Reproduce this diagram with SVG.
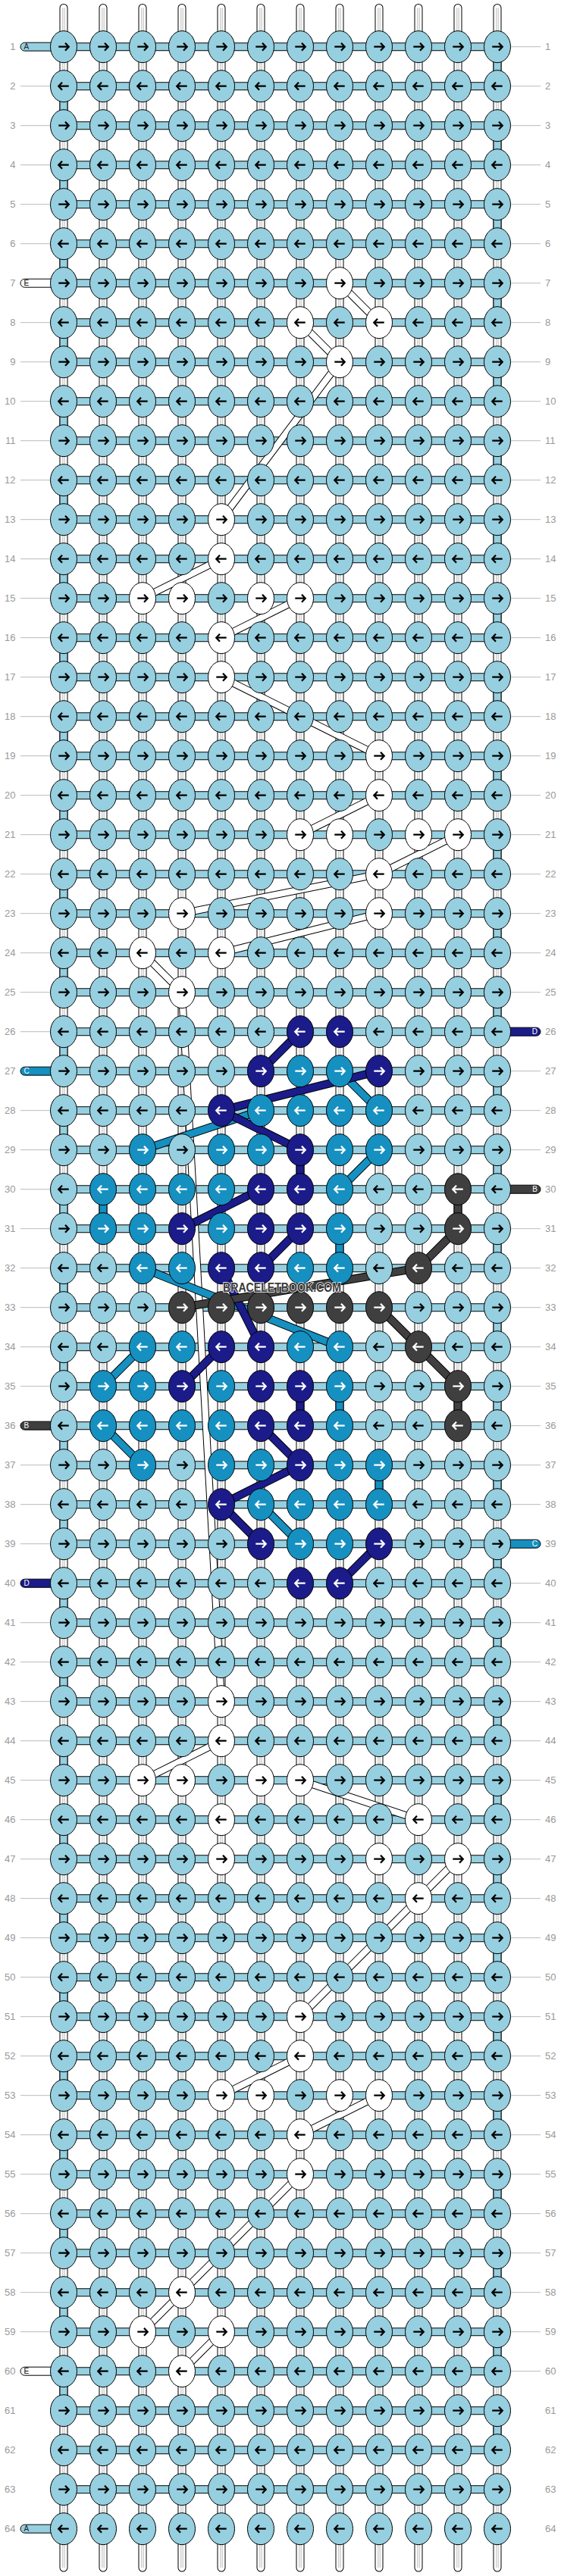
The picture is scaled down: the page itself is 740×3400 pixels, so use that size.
<svg xmlns="http://www.w3.org/2000/svg" width="740" height="3400" viewBox="0 0 740 3400">
<style>
.num{font-family:"Liberation Sans Narrow","Liberation Sans",Arial,sans-serif;font-size:13px;fill:#999}
.pl{font-family:"Liberation Sans",Arial,sans-serif;font-size:10px}
.e{fill:#fff}
.b{fill:#3f3f3f;color:#fff}
.c{fill:#1590c0;color:#fff}
.d{fill:#1b1b8a;color:#fff}
.wm{font-family:"Liberation Sans Narrow","Liberation Sans",Arial,sans-serif;font-size:16px;font-weight:bold;fill:#3a3a3a;stroke:#fff;stroke-width:1.5;paint-order:stroke}
</style>
<defs>
<g id="R"><ellipse rx="17.5" ry="21" stroke="#000"/><path d="M-6.7 0H6M2-5 6.7 0 2 5" fill="none" stroke="currentColor" stroke-width="2.3"/></g>
<g id="L"><ellipse rx="17.5" ry="21" stroke="#000"/><path d="M6.7 0H-6M-2-5-6.7 0-2 5" fill="none" stroke="currentColor" stroke-width="2.3"/></g>
<path id="vs" d="M84 10.5V3389M136 10.5V3389M188 10.5V3389M240 10.5V3389M292 10.5V3389M344 10.5V3389M396 10.5V3389M448 10.5V3389M500 10.5V3389M552 10.5V3389M604 10.5V3389M656 10.5V3389"/>
<path id="hb" d="M84 61.7H656m-572 52h572m-572 52h572m-572 52h572m-572 52h572m-572 52h572m-572 52h572m-572 52h572m-572 52h572m-572 52h572m-572 52h572m-572 52h572m-572 52h572m-572 52h572m-572 52h572m-572 52h572m-572 52h572m-572 52h572m-572 52h572m-572 52h572m-572 52h572m-572 52h572m-572 52h572m-572 52h572m-572 52h572m-572 52h572m-572 52h572m-572 52h572m-572 52h572m-572 52h572m-572 52h572m-572 52h572m-572 52h572m-572 52h572m-572 52h572m-572 52h572m-572 52h572m-572 52h572m-572 52h572m-572 52h572m-572 52h572m-572 52h572m-572 52h572m-572 52h572m-572 52h572m-572 52h572m-572 52h572m-572 52h572m-572 52h572m-572 52h572m-572 52h572m-572 52h572m-572 52h572m-572 52h572m-572 52h572m-572 52h572m-572 52h572m-572 52h572m-572 52h572m-572 52h572m-572 52h572m-572 52h572m-572 52h572"/>
<path id="ec" d="M656 79.7v16m-572 36v16m572 36v16m-572 36v16m572 36v16m-572 36v16m572 36v16m-572 36v16m572 36v16m-572 36v16m572 36v16m-572 36v16m572 36v16m-572 36v16m572 36v16m-572 36v16m572 36v16m-572 36v16m572 36v16m-572 36v16m572 36v16m-572 36v16m572 36v16m-572 36v16m572 36v16m-572 36v16m572 36v16m-572 36v16m572 36v16m-572 36v16m572 36v16m-572 36v16m572 36v16m-572 36v16m572 36v16m-572 36v16m572 36v16m-572 36v16m572 36v16m-572 36v16m572 36v16m-572 36v16m572 36v16m-572 36v16m572 36v16m-572 36v16m572 36v16m-572 36v16m572 36v16m-572 36v16m572 36v16m-572 36v16m572 36v16m-572 36v16m572 36v16m-572 36v16m572 36v16m-572 36v16m572 36v16m-572 36v16m572 36v16"/>
<path id="wd" d="M448 373.7L500 425.7M396 425.7L448 477.7M448 477.7L292 685.7M292 737.7L188 789.7M396 789.7L292 841.7M292 893.7L500 997.7M500 1049.7L396 1101.7M604 1101.7L500 1153.7M500 1153.7L240 1205.7M500 1205.7L292 1257.7M188 1257.7L240 1309.7M240 1309.7L292 2245.7M292 2297.7L188 2349.7M396 2349.7L552 2401.7M604 2453.7L552 2505.7M552 2505.7L396 2661.7M396 2713.7L292 2765.7M500 2765.7L396 2817.7M396 2869.7L240 3025.7M240 3025.7L188 3077.7M292 3077.7L240 3129.7"/>
<path id="cd" d="M448 1413.7L500 1465.7M344 1465.7L188 1517.7M500 1517.7L448 1569.7M188 1673.7L448 1777.7M188 1777.7L136 1829.7M136 1881.7L188 1933.7M344 1985.7L396 2037.7M136 1587.7v16M448 1639.7v16M448 1847.7v16M500 1951.7v16"/>
<path id="dd" d="M396 1361.7L344 1413.7M500 1413.7L292 1465.7M292 1465.7L396 1517.7M344 1569.7L240 1621.7M396 1621.7L344 1673.7M292 1673.7L344 1777.7M292 1777.7L240 1829.7M344 1881.7L396 1933.7M396 1933.7L292 1985.7M292 1985.7L344 2037.7M500 2037.7L448 2089.7M396 1535.7v16M396 1847.7v16"/>
<path id="bd" d="M604 1621.7L552 1673.7M552 1673.7L240 1725.7M500 1725.7L552 1777.7M552 1777.7L604 1829.7M604 1587.7v16M604 1847.7v16"/>
</defs>
<rect width="740" height="3400" fill="#fff"/>
<g id="connectors" fill="none">
<use href="#vs" stroke="#000" stroke-width="11" stroke-linecap="round"/>
<use href="#vs" stroke="#fff" stroke-width="9" stroke-linecap="round"/>
<use href="#vs" x="-1.2" stroke="#aaa" stroke-width="0.8"/>
<use href="#vs" x="1.2" stroke="#aaa" stroke-width="0.8"/>
<use href="#hb" stroke="#000" stroke-width="11"/>
<use href="#hb" stroke="#96cfdf" stroke-width="9"/>
<use href="#ec" stroke="#000" stroke-width="11"/>
<use href="#ec" stroke="#96cfdf" stroke-width="9"/>
<use href="#wd" stroke="#000" stroke-width="10"/>
<use href="#wd" stroke="#fff" stroke-width="8"/>
<use href="#cd" stroke="#000" stroke-width="11"/>
<use href="#cd" stroke="#1590c0" stroke-width="9"/>
<use href="#dd" stroke="#000" stroke-width="11"/>
<use href="#dd" stroke="#1b1b8a" stroke-width="9"/>
<use href="#bd" stroke="#000" stroke-width="11"/>
<use href="#bd" stroke="#3f3f3f" stroke-width="9"/>
</g>
<g id="row-lines" fill="none" stroke="#bbb">
<path d="M27 61.7h39m608 0h39m-686 52h39m608 0h39m-686 52h39m608 0h39m-686 52h39m608 0h39m-686 52h39m608 0h39m-686 52h39m608 0h39m-686 52h39m608 0h39m-686 52h39m608 0h39m-686 52h39m608 0h39m-686 52h39m608 0h39m-686 52h39m608 0h39m-686 52h39m608 0h39m-686 52h39m608 0h39m-686 52h39m608 0h39m-686 52h39m608 0h39m-686 52h39m608 0h39m-686 52h39m608 0h39m-686 52h39m608 0h39m-686 52h39m608 0h39m-686 52h39m608 0h39m-686 52h39m608 0h39m-686 52h39m608 0h39m-686 52h39m608 0h39m-686 52h39m608 0h39m-686 52h39m608 0h39m-686 52h39m608 0h39m-686 52h39m608 0h39m-686 52h39m608 0h39m-686 52h39m608 0h39m-686 52h39m608 0h39m-686 52h39m608 0h39m-686 52h39m608 0h39m-686 52h39m608 0h39m-686 52h39m608 0h39m-686 52h39m608 0h39m-686 52h39m608 0h39m-686 52h39m608 0h39m-686 52h39m608 0h39m-686 52h39m608 0h39m-686 52h39m608 0h39m-686 52h39m608 0h39m-686 52h39m608 0h39m-686 52h39m608 0h39m-686 52h39m608 0h39m-686 52h39m608 0h39m-686 52h39m608 0h39m-686 52h39m608 0h39m-686 52h39m608 0h39m-686 52h39m608 0h39m-686 52h39m608 0h39m-686 52h39m608 0h39m-686 52h39m608 0h39m-686 52h39m608 0h39m-686 52h39m608 0h39m-686 52h39m608 0h39m-686 52h39m608 0h39m-686 52h39m608 0h39m-686 52h39m608 0h39m-686 52h39m608 0h39m-686 52h39m608 0h39"/>
</g>
<g id="string-ends" stroke="#000">
<rect x="27" y="56.2" width="48" height="11" rx="5.5" fill="#96cfdf"/>
<rect x="27" y="368.2" width="48" height="11" rx="5.5" fill="#fff"/>
<rect x="27" y="1408.2" width="48" height="11" rx="5.5" fill="#1590c0"/>
<rect x="27" y="1876.2" width="48" height="11" rx="5.5" fill="#3f3f3f"/>
<rect x="27" y="2084.2" width="48" height="11" rx="5.5" fill="#1b1b8a"/>
<rect x="27" y="3124.2" width="48" height="11" rx="5.5" fill="#fff"/>
<rect x="27" y="3332.2" width="48" height="11" rx="5.5" fill="#96cfdf"/>
<rect x="665" y="1356.2" width="48" height="11" rx="5.5" fill="#1b1b8a"/>
<rect x="665" y="1564.2" width="48" height="11" rx="5.5" fill="#3f3f3f"/>
<rect x="665" y="2032.2" width="48" height="11" rx="5.5" fill="#1590c0"/>
</g>
<g id="string-labels" class="pl">
<text x="31.5" y="65.3" fill="#222">A</text>
<text x="31.5" y="377.3" fill="#000">E</text>
<text x="31.5" y="1417.3" fill="#fff">C</text>
<text x="31.5" y="1885.3" fill="#fff">B</text>
<text x="31.5" y="2093.3" fill="#fff">D</text>
<text x="31.5" y="3133.3" fill="#000">E</text>
<text x="31.5" y="3341.3" fill="#222">A</text>
<text x="709" y="1365.3" fill="#fff" text-anchor="end">D</text>
<text x="709" y="1573.3" fill="#fff" text-anchor="end">B</text>
<text x="709" y="2041.3" fill="#fff" text-anchor="end">C</text>
</g>
<g id="row-numbers" class="num" transform="translate(0 4.6)">
<g text-anchor="end">
<text x="20.5" y="61.7">1</text><text x="20.5" y="113.7">2</text><text x="20.5" y="165.7">3</text><text x="20.5" y="217.7">4</text><text x="20.5" y="269.7">5</text><text x="20.5" y="321.7">6</text><text x="20.5" y="373.7">7</text><text x="20.5" y="425.7">8</text><text x="20.5" y="477.7">9</text><text x="20.5" y="529.7">10</text><text x="20.5" y="581.7">11</text><text x="20.5" y="633.7">12</text><text x="20.5" y="685.7">13</text><text x="20.5" y="737.7">14</text><text x="20.5" y="789.7">15</text><text x="20.5" y="841.7">16</text><text x="20.5" y="893.7">17</text><text x="20.5" y="945.7">18</text><text x="20.5" y="997.7">19</text><text x="20.5" y="1049.7">20</text><text x="20.5" y="1101.7">21</text><text x="20.5" y="1153.7">22</text><text x="20.5" y="1205.7">23</text><text x="20.5" y="1257.7">24</text><text x="20.5" y="1309.7">25</text><text x="20.5" y="1361.7">26</text><text x="20.5" y="1413.7">27</text><text x="20.5" y="1465.7">28</text><text x="20.5" y="1517.7">29</text><text x="20.5" y="1569.7">30</text><text x="20.5" y="1621.7">31</text><text x="20.5" y="1673.7">32</text><text x="20.5" y="1725.7">33</text><text x="20.5" y="1777.7">34</text><text x="20.5" y="1829.7">35</text><text x="20.5" y="1881.7">36</text><text x="20.5" y="1933.7">37</text><text x="20.5" y="1985.7">38</text><text x="20.5" y="2037.7">39</text><text x="20.5" y="2089.7">40</text><text x="20.5" y="2141.7">41</text><text x="20.5" y="2193.7">42</text><text x="20.5" y="2245.7">43</text><text x="20.5" y="2297.7">44</text><text x="20.5" y="2349.7">45</text><text x="20.5" y="2401.7">46</text><text x="20.5" y="2453.7">47</text><text x="20.5" y="2505.7">48</text><text x="20.5" y="2557.7">49</text><text x="20.5" y="2609.7">50</text><text x="20.5" y="2661.7">51</text><text x="20.5" y="2713.7">52</text><text x="20.5" y="2765.7">53</text><text x="20.5" y="2817.7">54</text><text x="20.5" y="2869.7">55</text><text x="20.5" y="2921.7">56</text><text x="20.5" y="2973.7">57</text><text x="20.5" y="3025.7">58</text><text x="20.5" y="3077.7">59</text><text x="20.5" y="3129.7">60</text><text x="20.5" y="3181.7">61</text><text x="20.5" y="3233.7">62</text><text x="20.5" y="3285.7">63</text><text x="20.5" y="3337.7">64</text>
</g>
<g>
<text x="719" y="61.7">1</text><text x="719" y="113.7">2</text><text x="719" y="165.7">3</text><text x="719" y="217.7">4</text><text x="719" y="269.7">5</text><text x="719" y="321.7">6</text><text x="719" y="373.7">7</text><text x="719" y="425.7">8</text><text x="719" y="477.7">9</text><text x="719" y="529.7">10</text><text x="719" y="581.7">11</text><text x="719" y="633.7">12</text><text x="719" y="685.7">13</text><text x="719" y="737.7">14</text><text x="719" y="789.7">15</text><text x="719" y="841.7">16</text><text x="719" y="893.7">17</text><text x="719" y="945.7">18</text><text x="719" y="997.7">19</text><text x="719" y="1049.7">20</text><text x="719" y="1101.7">21</text><text x="719" y="1153.7">22</text><text x="719" y="1205.7">23</text><text x="719" y="1257.7">24</text><text x="719" y="1309.7">25</text><text x="719" y="1361.7">26</text><text x="719" y="1413.7">27</text><text x="719" y="1465.7">28</text><text x="719" y="1517.7">29</text><text x="719" y="1569.7">30</text><text x="719" y="1621.7">31</text><text x="719" y="1673.7">32</text><text x="719" y="1725.7">33</text><text x="719" y="1777.7">34</text><text x="719" y="1829.7">35</text><text x="719" y="1881.7">36</text><text x="719" y="1933.7">37</text><text x="719" y="1985.7">38</text><text x="719" y="2037.7">39</text><text x="719" y="2089.7">40</text><text x="719" y="2141.7">41</text><text x="719" y="2193.7">42</text><text x="719" y="2245.7">43</text><text x="719" y="2297.7">44</text><text x="719" y="2349.7">45</text><text x="719" y="2401.7">46</text><text x="719" y="2453.7">47</text><text x="719" y="2505.7">48</text><text x="719" y="2557.7">49</text><text x="719" y="2609.7">50</text><text x="719" y="2661.7">51</text><text x="719" y="2713.7">52</text><text x="719" y="2765.7">53</text><text x="719" y="2817.7">54</text><text x="719" y="2869.7">55</text><text x="719" y="2921.7">56</text><text x="719" y="2973.7">57</text><text x="719" y="3025.7">58</text><text x="719" y="3077.7">59</text><text x="719" y="3129.7">60</text><text x="719" y="3181.7">61</text><text x="719" y="3233.7">62</text><text x="719" y="3285.7">63</text><text x="719" y="3337.7">64</text>
</g>
</g>
<g id="nodes" fill="#96cfdf" color="#000">
<g id="row1" transform="translate(0 61.7)"><g id="k1-1"><use href="#R" x="84"/></g><g id="k1-2"><use href="#R" x="136"/></g><g id="k1-3"><use href="#R" x="188"/></g><g id="k1-4"><use href="#R" x="240"/></g><g id="k1-5"><use href="#R" x="292"/></g><g id="k1-6"><use href="#R" x="344"/></g><g id="k1-7"><use href="#R" x="396"/></g><g id="k1-8"><use href="#R" x="448"/></g><g id="k1-9"><use href="#R" x="500"/></g><g id="k1-10"><use href="#R" x="552"/></g><g id="k1-11"><use href="#R" x="604"/></g><g id="k1-12"><use href="#R" x="656"/></g></g>
<g id="row2" transform="translate(0 113.7)"><g id="k2-1"><use href="#L" x="84"/></g><g id="k2-2"><use href="#L" x="136"/></g><g id="k2-3"><use href="#L" x="188"/></g><g id="k2-4"><use href="#L" x="240"/></g><g id="k2-5"><use href="#L" x="292"/></g><g id="k2-6"><use href="#L" x="344"/></g><g id="k2-7"><use href="#L" x="396"/></g><g id="k2-8"><use href="#L" x="448"/></g><g id="k2-9"><use href="#L" x="500"/></g><g id="k2-10"><use href="#L" x="552"/></g><g id="k2-11"><use href="#L" x="604"/></g><g id="k2-12"><use href="#L" x="656"/></g></g>
<g id="row3" transform="translate(0 165.7)"><g id="k3-1"><use href="#R" x="84"/></g><g id="k3-2"><use href="#R" x="136"/></g><g id="k3-3"><use href="#R" x="188"/></g><g id="k3-4"><use href="#R" x="240"/></g><g id="k3-5"><use href="#R" x="292"/></g><g id="k3-6"><use href="#R" x="344"/></g><g id="k3-7"><use href="#R" x="396"/></g><g id="k3-8"><use href="#R" x="448"/></g><g id="k3-9"><use href="#R" x="500"/></g><g id="k3-10"><use href="#R" x="552"/></g><g id="k3-11"><use href="#R" x="604"/></g><g id="k3-12"><use href="#R" x="656"/></g></g>
<g id="row4" transform="translate(0 217.7)"><g id="k4-1"><use href="#L" x="84"/></g><g id="k4-2"><use href="#L" x="136"/></g><g id="k4-3"><use href="#L" x="188"/></g><g id="k4-4"><use href="#L" x="240"/></g><g id="k4-5"><use href="#L" x="292"/></g><g id="k4-6"><use href="#L" x="344"/></g><g id="k4-7"><use href="#L" x="396"/></g><g id="k4-8"><use href="#L" x="448"/></g><g id="k4-9"><use href="#L" x="500"/></g><g id="k4-10"><use href="#L" x="552"/></g><g id="k4-11"><use href="#L" x="604"/></g><g id="k4-12"><use href="#L" x="656"/></g></g>
<g id="row5" transform="translate(0 269.7)"><g id="k5-1"><use href="#R" x="84"/></g><g id="k5-2"><use href="#R" x="136"/></g><g id="k5-3"><use href="#R" x="188"/></g><g id="k5-4"><use href="#R" x="240"/></g><g id="k5-5"><use href="#R" x="292"/></g><g id="k5-6"><use href="#R" x="344"/></g><g id="k5-7"><use href="#R" x="396"/></g><g id="k5-8"><use href="#R" x="448"/></g><g id="k5-9"><use href="#R" x="500"/></g><g id="k5-10"><use href="#R" x="552"/></g><g id="k5-11"><use href="#R" x="604"/></g><g id="k5-12"><use href="#R" x="656"/></g></g>
<g id="row6" transform="translate(0 321.7)"><g id="k6-1"><use href="#L" x="84"/></g><g id="k6-2"><use href="#L" x="136"/></g><g id="k6-3"><use href="#L" x="188"/></g><g id="k6-4"><use href="#L" x="240"/></g><g id="k6-5"><use href="#L" x="292"/></g><g id="k6-6"><use href="#L" x="344"/></g><g id="k6-7"><use href="#L" x="396"/></g><g id="k6-8"><use href="#L" x="448"/></g><g id="k6-9"><use href="#L" x="500"/></g><g id="k6-10"><use href="#L" x="552"/></g><g id="k6-11"><use href="#L" x="604"/></g><g id="k6-12"><use href="#L" x="656"/></g></g>
<g id="row7" transform="translate(0 373.7)"><g id="k7-1"><use href="#R" x="84"/></g><g id="k7-2"><use href="#R" x="136"/></g><g id="k7-3"><use href="#R" x="188"/></g><g id="k7-4"><use href="#R" x="240"/></g><g id="k7-5"><use href="#R" x="292"/></g><g id="k7-6"><use href="#R" x="344"/></g><g id="k7-7"><use href="#R" x="396"/></g><g id="k7-8" class="e"><use href="#R" x="448"/></g><g id="k7-9"><use href="#R" x="500"/></g><g id="k7-10"><use href="#R" x="552"/></g><g id="k7-11"><use href="#R" x="604"/></g><g id="k7-12"><use href="#R" x="656"/></g></g>
<g id="row8" transform="translate(0 425.7)"><g id="k8-1"><use href="#L" x="84"/></g><g id="k8-2"><use href="#L" x="136"/></g><g id="k8-3"><use href="#L" x="188"/></g><g id="k8-4"><use href="#L" x="240"/></g><g id="k8-5"><use href="#L" x="292"/></g><g id="k8-6"><use href="#L" x="344"/></g><g id="k8-7" class="e"><use href="#L" x="396"/></g><g id="k8-8"><use href="#L" x="448"/></g><g id="k8-9" class="e"><use href="#L" x="500"/></g><g id="k8-10"><use href="#L" x="552"/></g><g id="k8-11"><use href="#L" x="604"/></g><g id="k8-12"><use href="#L" x="656"/></g></g>
<g id="row9" transform="translate(0 477.7)"><g id="k9-1"><use href="#R" x="84"/></g><g id="k9-2"><use href="#R" x="136"/></g><g id="k9-3"><use href="#R" x="188"/></g><g id="k9-4"><use href="#R" x="240"/></g><g id="k9-5"><use href="#R" x="292"/></g><g id="k9-6"><use href="#R" x="344"/></g><g id="k9-7"><use href="#R" x="396"/></g><g id="k9-8" class="e"><use href="#R" x="448"/></g><g id="k9-9"><use href="#R" x="500"/></g><g id="k9-10"><use href="#R" x="552"/></g><g id="k9-11"><use href="#R" x="604"/></g><g id="k9-12"><use href="#R" x="656"/></g></g>
<g id="row10" transform="translate(0 529.7)"><g id="k10-1"><use href="#L" x="84"/></g><g id="k10-2"><use href="#L" x="136"/></g><g id="k10-3"><use href="#L" x="188"/></g><g id="k10-4"><use href="#L" x="240"/></g><g id="k10-5"><use href="#L" x="292"/></g><g id="k10-6"><use href="#L" x="344"/></g><g id="k10-7"><use href="#L" x="396"/></g><g id="k10-8"><use href="#L" x="448"/></g><g id="k10-9"><use href="#L" x="500"/></g><g id="k10-10"><use href="#L" x="552"/></g><g id="k10-11"><use href="#L" x="604"/></g><g id="k10-12"><use href="#L" x="656"/></g></g>
<g id="row11" transform="translate(0 581.7)"><g id="k11-1"><use href="#R" x="84"/></g><g id="k11-2"><use href="#R" x="136"/></g><g id="k11-3"><use href="#R" x="188"/></g><g id="k11-4"><use href="#R" x="240"/></g><g id="k11-5"><use href="#R" x="292"/></g><g id="k11-6"><use href="#R" x="344"/></g><g id="k11-7"><use href="#R" x="396"/></g><g id="k11-8"><use href="#R" x="448"/></g><g id="k11-9"><use href="#R" x="500"/></g><g id="k11-10"><use href="#R" x="552"/></g><g id="k11-11"><use href="#R" x="604"/></g><g id="k11-12"><use href="#R" x="656"/></g></g>
<g id="row12" transform="translate(0 633.7)"><g id="k12-1"><use href="#L" x="84"/></g><g id="k12-2"><use href="#L" x="136"/></g><g id="k12-3"><use href="#L" x="188"/></g><g id="k12-4"><use href="#L" x="240"/></g><g id="k12-5"><use href="#L" x="292"/></g><g id="k12-6"><use href="#L" x="344"/></g><g id="k12-7"><use href="#L" x="396"/></g><g id="k12-8"><use href="#L" x="448"/></g><g id="k12-9"><use href="#L" x="500"/></g><g id="k12-10"><use href="#L" x="552"/></g><g id="k12-11"><use href="#L" x="604"/></g><g id="k12-12"><use href="#L" x="656"/></g></g>
<g id="row13" transform="translate(0 685.7)"><g id="k13-1"><use href="#R" x="84"/></g><g id="k13-2"><use href="#R" x="136"/></g><g id="k13-3"><use href="#R" x="188"/></g><g id="k13-4"><use href="#R" x="240"/></g><g id="k13-5" class="e"><use href="#R" x="292"/></g><g id="k13-6"><use href="#R" x="344"/></g><g id="k13-7"><use href="#R" x="396"/></g><g id="k13-8"><use href="#R" x="448"/></g><g id="k13-9"><use href="#R" x="500"/></g><g id="k13-10"><use href="#R" x="552"/></g><g id="k13-11"><use href="#R" x="604"/></g><g id="k13-12"><use href="#R" x="656"/></g></g>
<g id="row14" transform="translate(0 737.7)"><g id="k14-1"><use href="#L" x="84"/></g><g id="k14-2"><use href="#L" x="136"/></g><g id="k14-3"><use href="#L" x="188"/></g><g id="k14-4"><use href="#L" x="240"/></g><g id="k14-5" class="e"><use href="#L" x="292"/></g><g id="k14-6"><use href="#L" x="344"/></g><g id="k14-7"><use href="#L" x="396"/></g><g id="k14-8"><use href="#L" x="448"/></g><g id="k14-9"><use href="#L" x="500"/></g><g id="k14-10"><use href="#L" x="552"/></g><g id="k14-11"><use href="#L" x="604"/></g><g id="k14-12"><use href="#L" x="656"/></g></g>
<g id="row15" transform="translate(0 789.7)"><g id="k15-1"><use href="#R" x="84"/></g><g id="k15-2"><use href="#R" x="136"/></g><g id="k15-3" class="e"><use href="#R" x="188"/></g><g id="k15-4" class="e"><use href="#R" x="240"/></g><g id="k15-5"><use href="#R" x="292"/></g><g id="k15-6" class="e"><use href="#R" x="344"/></g><g id="k15-7" class="e"><use href="#R" x="396"/></g><g id="k15-8"><use href="#R" x="448"/></g><g id="k15-9"><use href="#R" x="500"/></g><g id="k15-10"><use href="#R" x="552"/></g><g id="k15-11"><use href="#R" x="604"/></g><g id="k15-12"><use href="#R" x="656"/></g></g>
<g id="row16" transform="translate(0 841.7)"><g id="k16-1"><use href="#L" x="84"/></g><g id="k16-2"><use href="#L" x="136"/></g><g id="k16-3"><use href="#L" x="188"/></g><g id="k16-4"><use href="#L" x="240"/></g><g id="k16-5" class="e"><use href="#L" x="292"/></g><g id="k16-6"><use href="#L" x="344"/></g><g id="k16-7"><use href="#L" x="396"/></g><g id="k16-8"><use href="#L" x="448"/></g><g id="k16-9"><use href="#L" x="500"/></g><g id="k16-10"><use href="#L" x="552"/></g><g id="k16-11"><use href="#L" x="604"/></g><g id="k16-12"><use href="#L" x="656"/></g></g>
<g id="row17" transform="translate(0 893.7)"><g id="k17-1"><use href="#R" x="84"/></g><g id="k17-2"><use href="#R" x="136"/></g><g id="k17-3"><use href="#R" x="188"/></g><g id="k17-4"><use href="#R" x="240"/></g><g id="k17-5" class="e"><use href="#R" x="292"/></g><g id="k17-6"><use href="#R" x="344"/></g><g id="k17-7"><use href="#R" x="396"/></g><g id="k17-8"><use href="#R" x="448"/></g><g id="k17-9"><use href="#R" x="500"/></g><g id="k17-10"><use href="#R" x="552"/></g><g id="k17-11"><use href="#R" x="604"/></g><g id="k17-12"><use href="#R" x="656"/></g></g>
<g id="row18" transform="translate(0 945.7)"><g id="k18-1"><use href="#L" x="84"/></g><g id="k18-2"><use href="#L" x="136"/></g><g id="k18-3"><use href="#L" x="188"/></g><g id="k18-4"><use href="#L" x="240"/></g><g id="k18-5"><use href="#L" x="292"/></g><g id="k18-6"><use href="#L" x="344"/></g><g id="k18-7"><use href="#L" x="396"/></g><g id="k18-8"><use href="#L" x="448"/></g><g id="k18-9"><use href="#L" x="500"/></g><g id="k18-10"><use href="#L" x="552"/></g><g id="k18-11"><use href="#L" x="604"/></g><g id="k18-12"><use href="#L" x="656"/></g></g>
<g id="row19" transform="translate(0 997.7)"><g id="k19-1"><use href="#R" x="84"/></g><g id="k19-2"><use href="#R" x="136"/></g><g id="k19-3"><use href="#R" x="188"/></g><g id="k19-4"><use href="#R" x="240"/></g><g id="k19-5"><use href="#R" x="292"/></g><g id="k19-6"><use href="#R" x="344"/></g><g id="k19-7"><use href="#R" x="396"/></g><g id="k19-8"><use href="#R" x="448"/></g><g id="k19-9" class="e"><use href="#R" x="500"/></g><g id="k19-10"><use href="#R" x="552"/></g><g id="k19-11"><use href="#R" x="604"/></g><g id="k19-12"><use href="#R" x="656"/></g></g>
<g id="row20" transform="translate(0 1049.7)"><g id="k20-1"><use href="#L" x="84"/></g><g id="k20-2"><use href="#L" x="136"/></g><g id="k20-3"><use href="#L" x="188"/></g><g id="k20-4"><use href="#L" x="240"/></g><g id="k20-5"><use href="#L" x="292"/></g><g id="k20-6"><use href="#L" x="344"/></g><g id="k20-7"><use href="#L" x="396"/></g><g id="k20-8"><use href="#L" x="448"/></g><g id="k20-9" class="e"><use href="#L" x="500"/></g><g id="k20-10"><use href="#L" x="552"/></g><g id="k20-11"><use href="#L" x="604"/></g><g id="k20-12"><use href="#L" x="656"/></g></g>
<g id="row21" transform="translate(0 1101.7)"><g id="k21-1"><use href="#R" x="84"/></g><g id="k21-2"><use href="#R" x="136"/></g><g id="k21-3"><use href="#R" x="188"/></g><g id="k21-4"><use href="#R" x="240"/></g><g id="k21-5"><use href="#R" x="292"/></g><g id="k21-6"><use href="#R" x="344"/></g><g id="k21-7" class="e"><use href="#R" x="396"/></g><g id="k21-8" class="e"><use href="#R" x="448"/></g><g id="k21-9"><use href="#R" x="500"/></g><g id="k21-10" class="e"><use href="#R" x="552"/></g><g id="k21-11" class="e"><use href="#R" x="604"/></g><g id="k21-12"><use href="#R" x="656"/></g></g>
<g id="row22" transform="translate(0 1153.7)"><g id="k22-1"><use href="#L" x="84"/></g><g id="k22-2"><use href="#L" x="136"/></g><g id="k22-3"><use href="#L" x="188"/></g><g id="k22-4"><use href="#L" x="240"/></g><g id="k22-5"><use href="#L" x="292"/></g><g id="k22-6"><use href="#L" x="344"/></g><g id="k22-7"><use href="#L" x="396"/></g><g id="k22-8"><use href="#L" x="448"/></g><g id="k22-9" class="e"><use href="#L" x="500"/></g><g id="k22-10"><use href="#L" x="552"/></g><g id="k22-11"><use href="#L" x="604"/></g><g id="k22-12"><use href="#L" x="656"/></g></g>
<g id="row23" transform="translate(0 1205.7)"><g id="k23-1"><use href="#R" x="84"/></g><g id="k23-2"><use href="#R" x="136"/></g><g id="k23-3"><use href="#R" x="188"/></g><g id="k23-4" class="e"><use href="#R" x="240"/></g><g id="k23-5"><use href="#R" x="292"/></g><g id="k23-6"><use href="#R" x="344"/></g><g id="k23-7"><use href="#R" x="396"/></g><g id="k23-8"><use href="#R" x="448"/></g><g id="k23-9" class="e"><use href="#R" x="500"/></g><g id="k23-10"><use href="#R" x="552"/></g><g id="k23-11"><use href="#R" x="604"/></g><g id="k23-12"><use href="#R" x="656"/></g></g>
<g id="row24" transform="translate(0 1257.7)"><g id="k24-1"><use href="#L" x="84"/></g><g id="k24-2"><use href="#L" x="136"/></g><g id="k24-3" class="e"><use href="#L" x="188"/></g><g id="k24-4"><use href="#L" x="240"/></g><g id="k24-5" class="e"><use href="#L" x="292"/></g><g id="k24-6"><use href="#L" x="344"/></g><g id="k24-7"><use href="#L" x="396"/></g><g id="k24-8"><use href="#L" x="448"/></g><g id="k24-9"><use href="#L" x="500"/></g><g id="k24-10"><use href="#L" x="552"/></g><g id="k24-11"><use href="#L" x="604"/></g><g id="k24-12"><use href="#L" x="656"/></g></g>
<g id="row25" transform="translate(0 1309.7)"><g id="k25-1"><use href="#R" x="84"/></g><g id="k25-2"><use href="#R" x="136"/></g><g id="k25-3"><use href="#R" x="188"/></g><g id="k25-4" class="e"><use href="#R" x="240"/></g><g id="k25-5"><use href="#R" x="292"/></g><g id="k25-6"><use href="#R" x="344"/></g><g id="k25-7"><use href="#R" x="396"/></g><g id="k25-8"><use href="#R" x="448"/></g><g id="k25-9"><use href="#R" x="500"/></g><g id="k25-10"><use href="#R" x="552"/></g><g id="k25-11"><use href="#R" x="604"/></g><g id="k25-12"><use href="#R" x="656"/></g></g>
<g id="row26" transform="translate(0 1361.7)"><g id="k26-1"><use href="#L" x="84"/></g><g id="k26-2"><use href="#L" x="136"/></g><g id="k26-3"><use href="#L" x="188"/></g><g id="k26-4"><use href="#L" x="240"/></g><g id="k26-5"><use href="#L" x="292"/></g><g id="k26-6"><use href="#L" x="344"/></g><g id="k26-7" class="d"><use href="#L" x="396"/></g><g id="k26-8" class="d"><use href="#L" x="448"/></g><g id="k26-9"><use href="#L" x="500"/></g><g id="k26-10"><use href="#L" x="552"/></g><g id="k26-11"><use href="#L" x="604"/></g><g id="k26-12"><use href="#L" x="656"/></g></g>
<g id="row27" transform="translate(0 1413.7)"><g id="k27-1"><use href="#R" x="84"/></g><g id="k27-2"><use href="#R" x="136"/></g><g id="k27-3"><use href="#R" x="188"/></g><g id="k27-4"><use href="#R" x="240"/></g><g id="k27-5"><use href="#R" x="292"/></g><g id="k27-6" class="d"><use href="#R" x="344"/></g><g id="k27-7" class="c"><use href="#R" x="396"/></g><g id="k27-8" class="c"><use href="#R" x="448"/></g><g id="k27-9" class="d"><use href="#R" x="500"/></g><g id="k27-10"><use href="#R" x="552"/></g><g id="k27-11"><use href="#R" x="604"/></g><g id="k27-12"><use href="#R" x="656"/></g></g>
<g id="row28" transform="translate(0 1465.7)"><g id="k28-1"><use href="#L" x="84"/></g><g id="k28-2"><use href="#L" x="136"/></g><g id="k28-3"><use href="#L" x="188"/></g><g id="k28-4"><use href="#L" x="240"/></g><g id="k28-5" class="d"><use href="#L" x="292"/></g><g id="k28-6" class="c"><use href="#L" x="344"/></g><g id="k28-7" class="c"><use href="#L" x="396"/></g><g id="k28-8" class="c"><use href="#L" x="448"/></g><g id="k28-9" class="c"><use href="#L" x="500"/></g><g id="k28-10"><use href="#L" x="552"/></g><g id="k28-11"><use href="#L" x="604"/></g><g id="k28-12"><use href="#L" x="656"/></g></g>
<g id="row29" transform="translate(0 1517.7)"><g id="k29-1"><use href="#R" x="84"/></g><g id="k29-2"><use href="#R" x="136"/></g><g id="k29-3" class="c"><use href="#R" x="188"/></g><g id="k29-4"><use href="#R" x="240"/></g><g id="k29-5" class="c"><use href="#R" x="292"/></g><g id="k29-6" class="c"><use href="#R" x="344"/></g><g id="k29-7" class="d"><use href="#R" x="396"/></g><g id="k29-8" class="c"><use href="#R" x="448"/></g><g id="k29-9" class="c"><use href="#R" x="500"/></g><g id="k29-10"><use href="#R" x="552"/></g><g id="k29-11"><use href="#R" x="604"/></g><g id="k29-12"><use href="#R" x="656"/></g></g>
<g id="row30" transform="translate(0 1569.7)"><g id="k30-1"><use href="#L" x="84"/></g><g id="k30-2" class="c"><use href="#L" x="136"/></g><g id="k30-3" class="c"><use href="#L" x="188"/></g><g id="k30-4" class="c"><use href="#L" x="240"/></g><g id="k30-5" class="c"><use href="#L" x="292"/></g><g id="k30-6" class="d"><use href="#L" x="344"/></g><g id="k30-7" class="d"><use href="#L" x="396"/></g><g id="k30-8" class="c"><use href="#L" x="448"/></g><g id="k30-9"><use href="#L" x="500"/></g><g id="k30-10"><use href="#L" x="552"/></g><g id="k30-11" class="b"><use href="#L" x="604"/></g><g id="k30-12"><use href="#L" x="656"/></g></g>
<g id="row31" transform="translate(0 1621.7)"><g id="k31-1"><use href="#R" x="84"/></g><g id="k31-2" class="c"><use href="#R" x="136"/></g><g id="k31-3" class="c"><use href="#R" x="188"/></g><g id="k31-4" class="d"><use href="#R" x="240"/></g><g id="k31-5" class="c"><use href="#R" x="292"/></g><g id="k31-6" class="d"><use href="#R" x="344"/></g><g id="k31-7" class="d"><use href="#R" x="396"/></g><g id="k31-8" class="c"><use href="#R" x="448"/></g><g id="k31-9"><use href="#R" x="500"/></g><g id="k31-10"><use href="#R" x="552"/></g><g id="k31-11" class="b"><use href="#R" x="604"/></g><g id="k31-12"><use href="#R" x="656"/></g></g>
<g id="row32" transform="translate(0 1673.7)"><g id="k32-1"><use href="#L" x="84"/></g><g id="k32-2"><use href="#L" x="136"/></g><g id="k32-3" class="c"><use href="#L" x="188"/></g><g id="k32-4" class="c"><use href="#L" x="240"/></g><g id="k32-5" class="d"><use href="#L" x="292"/></g><g id="k32-6" class="d"><use href="#L" x="344"/></g><g id="k32-7" class="c"><use href="#L" x="396"/></g><g id="k32-8" class="c"><use href="#L" x="448"/></g><g id="k32-9"><use href="#L" x="500"/></g><g id="k32-10" class="b"><use href="#L" x="552"/></g><g id="k32-11"><use href="#L" x="604"/></g><g id="k32-12"><use href="#L" x="656"/></g></g>
<g id="row33" transform="translate(0 1725.7)"><g id="k33-1"><use href="#R" x="84"/></g><g id="k33-2"><use href="#R" x="136"/></g><g id="k33-3"><use href="#R" x="188"/></g><g id="k33-4" class="b"><use href="#R" x="240"/></g><g id="k33-5" class="b"><use href="#R" x="292"/></g><g id="k33-6" class="b"><use href="#R" x="344"/></g><g id="k33-7" class="b"><use href="#R" x="396"/></g><g id="k33-8" class="b"><use href="#R" x="448"/></g><g id="k33-9" class="b"><use href="#R" x="500"/></g><g id="k33-10"><use href="#R" x="552"/></g><g id="k33-11"><use href="#R" x="604"/></g><g id="k33-12"><use href="#R" x="656"/></g></g>
<g id="row34" transform="translate(0 1777.7)"><g id="k34-1"><use href="#L" x="84"/></g><g id="k34-2"><use href="#L" x="136"/></g><g id="k34-3" class="c"><use href="#L" x="188"/></g><g id="k34-4" class="c"><use href="#L" x="240"/></g><g id="k34-5" class="d"><use href="#L" x="292"/></g><g id="k34-6" class="d"><use href="#L" x="344"/></g><g id="k34-7" class="c"><use href="#L" x="396"/></g><g id="k34-8" class="c"><use href="#L" x="448"/></g><g id="k34-9"><use href="#L" x="500"/></g><g id="k34-10" class="b"><use href="#L" x="552"/></g><g id="k34-11"><use href="#L" x="604"/></g><g id="k34-12"><use href="#L" x="656"/></g></g>
<g id="row35" transform="translate(0 1829.7)"><g id="k35-1"><use href="#R" x="84"/></g><g id="k35-2" class="c"><use href="#R" x="136"/></g><g id="k35-3" class="c"><use href="#R" x="188"/></g><g id="k35-4" class="d"><use href="#R" x="240"/></g><g id="k35-5" class="c"><use href="#R" x="292"/></g><g id="k35-6" class="d"><use href="#R" x="344"/></g><g id="k35-7" class="d"><use href="#R" x="396"/></g><g id="k35-8" class="c"><use href="#R" x="448"/></g><g id="k35-9"><use href="#R" x="500"/></g><g id="k35-10"><use href="#R" x="552"/></g><g id="k35-11" class="b"><use href="#R" x="604"/></g><g id="k35-12"><use href="#R" x="656"/></g></g>
<g id="row36" transform="translate(0 1881.7)"><g id="k36-1"><use href="#L" x="84"/></g><g id="k36-2" class="c"><use href="#L" x="136"/></g><g id="k36-3" class="c"><use href="#L" x="188"/></g><g id="k36-4" class="c"><use href="#L" x="240"/></g><g id="k36-5" class="c"><use href="#L" x="292"/></g><g id="k36-6" class="d"><use href="#L" x="344"/></g><g id="k36-7" class="d"><use href="#L" x="396"/></g><g id="k36-8" class="c"><use href="#L" x="448"/></g><g id="k36-9"><use href="#L" x="500"/></g><g id="k36-10"><use href="#L" x="552"/></g><g id="k36-11" class="b"><use href="#L" x="604"/></g><g id="k36-12"><use href="#L" x="656"/></g></g>
<g id="row37" transform="translate(0 1933.7)"><g id="k37-1"><use href="#R" x="84"/></g><g id="k37-2"><use href="#R" x="136"/></g><g id="k37-3" class="c"><use href="#R" x="188"/></g><g id="k37-4"><use href="#R" x="240"/></g><g id="k37-5" class="c"><use href="#R" x="292"/></g><g id="k37-6" class="c"><use href="#R" x="344"/></g><g id="k37-7" class="d"><use href="#R" x="396"/></g><g id="k37-8" class="c"><use href="#R" x="448"/></g><g id="k37-9" class="c"><use href="#R" x="500"/></g><g id="k37-10"><use href="#R" x="552"/></g><g id="k37-11"><use href="#R" x="604"/></g><g id="k37-12"><use href="#R" x="656"/></g></g>
<g id="row38" transform="translate(0 1985.7)"><g id="k38-1"><use href="#L" x="84"/></g><g id="k38-2"><use href="#L" x="136"/></g><g id="k38-3"><use href="#L" x="188"/></g><g id="k38-4"><use href="#L" x="240"/></g><g id="k38-5" class="d"><use href="#L" x="292"/></g><g id="k38-6" class="c"><use href="#L" x="344"/></g><g id="k38-7" class="c"><use href="#L" x="396"/></g><g id="k38-8" class="c"><use href="#L" x="448"/></g><g id="k38-9" class="c"><use href="#L" x="500"/></g><g id="k38-10"><use href="#L" x="552"/></g><g id="k38-11"><use href="#L" x="604"/></g><g id="k38-12"><use href="#L" x="656"/></g></g>
<g id="row39" transform="translate(0 2037.7)"><g id="k39-1"><use href="#R" x="84"/></g><g id="k39-2"><use href="#R" x="136"/></g><g id="k39-3"><use href="#R" x="188"/></g><g id="k39-4"><use href="#R" x="240"/></g><g id="k39-5"><use href="#R" x="292"/></g><g id="k39-6" class="d"><use href="#R" x="344"/></g><g id="k39-7" class="c"><use href="#R" x="396"/></g><g id="k39-8" class="c"><use href="#R" x="448"/></g><g id="k39-9" class="d"><use href="#R" x="500"/></g><g id="k39-10"><use href="#R" x="552"/></g><g id="k39-11"><use href="#R" x="604"/></g><g id="k39-12"><use href="#R" x="656"/></g></g>
<g id="row40" transform="translate(0 2089.7)"><g id="k40-1"><use href="#L" x="84"/></g><g id="k40-2"><use href="#L" x="136"/></g><g id="k40-3"><use href="#L" x="188"/></g><g id="k40-4"><use href="#L" x="240"/></g><g id="k40-5"><use href="#L" x="292"/></g><g id="k40-6"><use href="#L" x="344"/></g><g id="k40-7" class="d"><use href="#L" x="396"/></g><g id="k40-8" class="d"><use href="#L" x="448"/></g><g id="k40-9"><use href="#L" x="500"/></g><g id="k40-10"><use href="#L" x="552"/></g><g id="k40-11"><use href="#L" x="604"/></g><g id="k40-12"><use href="#L" x="656"/></g></g>
<g id="row41" transform="translate(0 2141.7)"><g id="k41-1"><use href="#R" x="84"/></g><g id="k41-2"><use href="#R" x="136"/></g><g id="k41-3"><use href="#R" x="188"/></g><g id="k41-4"><use href="#R" x="240"/></g><g id="k41-5"><use href="#R" x="292"/></g><g id="k41-6"><use href="#R" x="344"/></g><g id="k41-7"><use href="#R" x="396"/></g><g id="k41-8"><use href="#R" x="448"/></g><g id="k41-9"><use href="#R" x="500"/></g><g id="k41-10"><use href="#R" x="552"/></g><g id="k41-11"><use href="#R" x="604"/></g><g id="k41-12"><use href="#R" x="656"/></g></g>
<g id="row42" transform="translate(0 2193.7)"><g id="k42-1"><use href="#L" x="84"/></g><g id="k42-2"><use href="#L" x="136"/></g><g id="k42-3"><use href="#L" x="188"/></g><g id="k42-4"><use href="#L" x="240"/></g><g id="k42-5"><use href="#L" x="292"/></g><g id="k42-6"><use href="#L" x="344"/></g><g id="k42-7"><use href="#L" x="396"/></g><g id="k42-8"><use href="#L" x="448"/></g><g id="k42-9"><use href="#L" x="500"/></g><g id="k42-10"><use href="#L" x="552"/></g><g id="k42-11"><use href="#L" x="604"/></g><g id="k42-12"><use href="#L" x="656"/></g></g>
<g id="row43" transform="translate(0 2245.7)"><g id="k43-1"><use href="#R" x="84"/></g><g id="k43-2"><use href="#R" x="136"/></g><g id="k43-3"><use href="#R" x="188"/></g><g id="k43-4"><use href="#R" x="240"/></g><g id="k43-5" class="e"><use href="#R" x="292"/></g><g id="k43-6"><use href="#R" x="344"/></g><g id="k43-7"><use href="#R" x="396"/></g><g id="k43-8"><use href="#R" x="448"/></g><g id="k43-9"><use href="#R" x="500"/></g><g id="k43-10"><use href="#R" x="552"/></g><g id="k43-11"><use href="#R" x="604"/></g><g id="k43-12"><use href="#R" x="656"/></g></g>
<g id="row44" transform="translate(0 2297.7)"><g id="k44-1"><use href="#L" x="84"/></g><g id="k44-2"><use href="#L" x="136"/></g><g id="k44-3"><use href="#L" x="188"/></g><g id="k44-4"><use href="#L" x="240"/></g><g id="k44-5" class="e"><use href="#L" x="292"/></g><g id="k44-6"><use href="#L" x="344"/></g><g id="k44-7"><use href="#L" x="396"/></g><g id="k44-8"><use href="#L" x="448"/></g><g id="k44-9"><use href="#L" x="500"/></g><g id="k44-10"><use href="#L" x="552"/></g><g id="k44-11"><use href="#L" x="604"/></g><g id="k44-12"><use href="#L" x="656"/></g></g>
<g id="row45" transform="translate(0 2349.7)"><g id="k45-1"><use href="#R" x="84"/></g><g id="k45-2"><use href="#R" x="136"/></g><g id="k45-3" class="e"><use href="#R" x="188"/></g><g id="k45-4" class="e"><use href="#R" x="240"/></g><g id="k45-5"><use href="#R" x="292"/></g><g id="k45-6" class="e"><use href="#R" x="344"/></g><g id="k45-7" class="e"><use href="#R" x="396"/></g><g id="k45-8"><use href="#R" x="448"/></g><g id="k45-9"><use href="#R" x="500"/></g><g id="k45-10"><use href="#R" x="552"/></g><g id="k45-11"><use href="#R" x="604"/></g><g id="k45-12"><use href="#R" x="656"/></g></g>
<g id="row46" transform="translate(0 2401.7)"><g id="k46-1"><use href="#L" x="84"/></g><g id="k46-2"><use href="#L" x="136"/></g><g id="k46-3"><use href="#L" x="188"/></g><g id="k46-4"><use href="#L" x="240"/></g><g id="k46-5" class="e"><use href="#L" x="292"/></g><g id="k46-6"><use href="#L" x="344"/></g><g id="k46-7"><use href="#L" x="396"/></g><g id="k46-8"><use href="#L" x="448"/></g><g id="k46-9"><use href="#L" x="500"/></g><g id="k46-10" class="e"><use href="#L" x="552"/></g><g id="k46-11"><use href="#L" x="604"/></g><g id="k46-12"><use href="#L" x="656"/></g></g>
<g id="row47" transform="translate(0 2453.7)"><g id="k47-1"><use href="#R" x="84"/></g><g id="k47-2"><use href="#R" x="136"/></g><g id="k47-3"><use href="#R" x="188"/></g><g id="k47-4"><use href="#R" x="240"/></g><g id="k47-5" class="e"><use href="#R" x="292"/></g><g id="k47-6"><use href="#R" x="344"/></g><g id="k47-7"><use href="#R" x="396"/></g><g id="k47-8"><use href="#R" x="448"/></g><g id="k47-9" class="e"><use href="#R" x="500"/></g><g id="k47-10"><use href="#R" x="552"/></g><g id="k47-11" class="e"><use href="#R" x="604"/></g><g id="k47-12"><use href="#R" x="656"/></g></g>
<g id="row48" transform="translate(0 2505.7)"><g id="k48-1"><use href="#L" x="84"/></g><g id="k48-2"><use href="#L" x="136"/></g><g id="k48-3"><use href="#L" x="188"/></g><g id="k48-4"><use href="#L" x="240"/></g><g id="k48-5"><use href="#L" x="292"/></g><g id="k48-6"><use href="#L" x="344"/></g><g id="k48-7"><use href="#L" x="396"/></g><g id="k48-8"><use href="#L" x="448"/></g><g id="k48-9"><use href="#L" x="500"/></g><g id="k48-10" class="e"><use href="#L" x="552"/></g><g id="k48-11"><use href="#L" x="604"/></g><g id="k48-12"><use href="#L" x="656"/></g></g>
<g id="row49" transform="translate(0 2557.7)"><g id="k49-1"><use href="#R" x="84"/></g><g id="k49-2"><use href="#R" x="136"/></g><g id="k49-3"><use href="#R" x="188"/></g><g id="k49-4"><use href="#R" x="240"/></g><g id="k49-5"><use href="#R" x="292"/></g><g id="k49-6"><use href="#R" x="344"/></g><g id="k49-7"><use href="#R" x="396"/></g><g id="k49-8"><use href="#R" x="448"/></g><g id="k49-9"><use href="#R" x="500"/></g><g id="k49-10"><use href="#R" x="552"/></g><g id="k49-11"><use href="#R" x="604"/></g><g id="k49-12"><use href="#R" x="656"/></g></g>
<g id="row50" transform="translate(0 2609.7)"><g id="k50-1"><use href="#L" x="84"/></g><g id="k50-2"><use href="#L" x="136"/></g><g id="k50-3"><use href="#L" x="188"/></g><g id="k50-4"><use href="#L" x="240"/></g><g id="k50-5"><use href="#L" x="292"/></g><g id="k50-6"><use href="#L" x="344"/></g><g id="k50-7"><use href="#L" x="396"/></g><g id="k50-8"><use href="#L" x="448"/></g><g id="k50-9"><use href="#L" x="500"/></g><g id="k50-10"><use href="#L" x="552"/></g><g id="k50-11"><use href="#L" x="604"/></g><g id="k50-12"><use href="#L" x="656"/></g></g>
<g id="row51" transform="translate(0 2661.7)"><g id="k51-1"><use href="#R" x="84"/></g><g id="k51-2"><use href="#R" x="136"/></g><g id="k51-3"><use href="#R" x="188"/></g><g id="k51-4"><use href="#R" x="240"/></g><g id="k51-5"><use href="#R" x="292"/></g><g id="k51-6"><use href="#R" x="344"/></g><g id="k51-7" class="e"><use href="#R" x="396"/></g><g id="k51-8"><use href="#R" x="448"/></g><g id="k51-9"><use href="#R" x="500"/></g><g id="k51-10"><use href="#R" x="552"/></g><g id="k51-11"><use href="#R" x="604"/></g><g id="k51-12"><use href="#R" x="656"/></g></g>
<g id="row52" transform="translate(0 2713.7)"><g id="k52-1"><use href="#L" x="84"/></g><g id="k52-2"><use href="#L" x="136"/></g><g id="k52-3"><use href="#L" x="188"/></g><g id="k52-4"><use href="#L" x="240"/></g><g id="k52-5"><use href="#L" x="292"/></g><g id="k52-6"><use href="#L" x="344"/></g><g id="k52-7" class="e"><use href="#L" x="396"/></g><g id="k52-8"><use href="#L" x="448"/></g><g id="k52-9"><use href="#L" x="500"/></g><g id="k52-10"><use href="#L" x="552"/></g><g id="k52-11"><use href="#L" x="604"/></g><g id="k52-12"><use href="#L" x="656"/></g></g>
<g id="row53" transform="translate(0 2765.7)"><g id="k53-1"><use href="#R" x="84"/></g><g id="k53-2"><use href="#R" x="136"/></g><g id="k53-3"><use href="#R" x="188"/></g><g id="k53-4"><use href="#R" x="240"/></g><g id="k53-5" class="e"><use href="#R" x="292"/></g><g id="k53-6" class="e"><use href="#R" x="344"/></g><g id="k53-7"><use href="#R" x="396"/></g><g id="k53-8" class="e"><use href="#R" x="448"/></g><g id="k53-9" class="e"><use href="#R" x="500"/></g><g id="k53-10"><use href="#R" x="552"/></g><g id="k53-11"><use href="#R" x="604"/></g><g id="k53-12"><use href="#R" x="656"/></g></g>
<g id="row54" transform="translate(0 2817.7)"><g id="k54-1"><use href="#L" x="84"/></g><g id="k54-2"><use href="#L" x="136"/></g><g id="k54-3"><use href="#L" x="188"/></g><g id="k54-4"><use href="#L" x="240"/></g><g id="k54-5"><use href="#L" x="292"/></g><g id="k54-6"><use href="#L" x="344"/></g><g id="k54-7" class="e"><use href="#L" x="396"/></g><g id="k54-8"><use href="#L" x="448"/></g><g id="k54-9"><use href="#L" x="500"/></g><g id="k54-10"><use href="#L" x="552"/></g><g id="k54-11"><use href="#L" x="604"/></g><g id="k54-12"><use href="#L" x="656"/></g></g>
<g id="row55" transform="translate(0 2869.7)"><g id="k55-1"><use href="#R" x="84"/></g><g id="k55-2"><use href="#R" x="136"/></g><g id="k55-3"><use href="#R" x="188"/></g><g id="k55-4"><use href="#R" x="240"/></g><g id="k55-5"><use href="#R" x="292"/></g><g id="k55-6"><use href="#R" x="344"/></g><g id="k55-7" class="e"><use href="#R" x="396"/></g><g id="k55-8"><use href="#R" x="448"/></g><g id="k55-9"><use href="#R" x="500"/></g><g id="k55-10"><use href="#R" x="552"/></g><g id="k55-11"><use href="#R" x="604"/></g><g id="k55-12"><use href="#R" x="656"/></g></g>
<g id="row56" transform="translate(0 2921.7)"><g id="k56-1"><use href="#L" x="84"/></g><g id="k56-2"><use href="#L" x="136"/></g><g id="k56-3"><use href="#L" x="188"/></g><g id="k56-4"><use href="#L" x="240"/></g><g id="k56-5"><use href="#L" x="292"/></g><g id="k56-6"><use href="#L" x="344"/></g><g id="k56-7"><use href="#L" x="396"/></g><g id="k56-8"><use href="#L" x="448"/></g><g id="k56-9"><use href="#L" x="500"/></g><g id="k56-10"><use href="#L" x="552"/></g><g id="k56-11"><use href="#L" x="604"/></g><g id="k56-12"><use href="#L" x="656"/></g></g>
<g id="row57" transform="translate(0 2973.7)"><g id="k57-1"><use href="#R" x="84"/></g><g id="k57-2"><use href="#R" x="136"/></g><g id="k57-3"><use href="#R" x="188"/></g><g id="k57-4"><use href="#R" x="240"/></g><g id="k57-5"><use href="#R" x="292"/></g><g id="k57-6"><use href="#R" x="344"/></g><g id="k57-7"><use href="#R" x="396"/></g><g id="k57-8"><use href="#R" x="448"/></g><g id="k57-9"><use href="#R" x="500"/></g><g id="k57-10"><use href="#R" x="552"/></g><g id="k57-11"><use href="#R" x="604"/></g><g id="k57-12"><use href="#R" x="656"/></g></g>
<g id="row58" transform="translate(0 3025.7)"><g id="k58-1"><use href="#L" x="84"/></g><g id="k58-2"><use href="#L" x="136"/></g><g id="k58-3"><use href="#L" x="188"/></g><g id="k58-4" class="e"><use href="#L" x="240"/></g><g id="k58-5"><use href="#L" x="292"/></g><g id="k58-6"><use href="#L" x="344"/></g><g id="k58-7"><use href="#L" x="396"/></g><g id="k58-8"><use href="#L" x="448"/></g><g id="k58-9"><use href="#L" x="500"/></g><g id="k58-10"><use href="#L" x="552"/></g><g id="k58-11"><use href="#L" x="604"/></g><g id="k58-12"><use href="#L" x="656"/></g></g>
<g id="row59" transform="translate(0 3077.7)"><g id="k59-1"><use href="#R" x="84"/></g><g id="k59-2"><use href="#R" x="136"/></g><g id="k59-3" class="e"><use href="#R" x="188"/></g><g id="k59-4"><use href="#R" x="240"/></g><g id="k59-5" class="e"><use href="#R" x="292"/></g><g id="k59-6"><use href="#R" x="344"/></g><g id="k59-7"><use href="#R" x="396"/></g><g id="k59-8"><use href="#R" x="448"/></g><g id="k59-9"><use href="#R" x="500"/></g><g id="k59-10"><use href="#R" x="552"/></g><g id="k59-11"><use href="#R" x="604"/></g><g id="k59-12"><use href="#R" x="656"/></g></g>
<g id="row60" transform="translate(0 3129.7)"><g id="k60-1"><use href="#L" x="84"/></g><g id="k60-2"><use href="#L" x="136"/></g><g id="k60-3"><use href="#L" x="188"/></g><g id="k60-4" class="e"><use href="#L" x="240"/></g><g id="k60-5"><use href="#L" x="292"/></g><g id="k60-6"><use href="#L" x="344"/></g><g id="k60-7"><use href="#L" x="396"/></g><g id="k60-8"><use href="#L" x="448"/></g><g id="k60-9"><use href="#L" x="500"/></g><g id="k60-10"><use href="#L" x="552"/></g><g id="k60-11"><use href="#L" x="604"/></g><g id="k60-12"><use href="#L" x="656"/></g></g>
<g id="row61" transform="translate(0 3181.7)"><g id="k61-1"><use href="#R" x="84"/></g><g id="k61-2"><use href="#R" x="136"/></g><g id="k61-3"><use href="#R" x="188"/></g><g id="k61-4"><use href="#R" x="240"/></g><g id="k61-5"><use href="#R" x="292"/></g><g id="k61-6"><use href="#R" x="344"/></g><g id="k61-7"><use href="#R" x="396"/></g><g id="k61-8"><use href="#R" x="448"/></g><g id="k61-9"><use href="#R" x="500"/></g><g id="k61-10"><use href="#R" x="552"/></g><g id="k61-11"><use href="#R" x="604"/></g><g id="k61-12"><use href="#R" x="656"/></g></g>
<g id="row62" transform="translate(0 3233.7)"><g id="k62-1"><use href="#L" x="84"/></g><g id="k62-2"><use href="#L" x="136"/></g><g id="k62-3"><use href="#L" x="188"/></g><g id="k62-4"><use href="#L" x="240"/></g><g id="k62-5"><use href="#L" x="292"/></g><g id="k62-6"><use href="#L" x="344"/></g><g id="k62-7"><use href="#L" x="396"/></g><g id="k62-8"><use href="#L" x="448"/></g><g id="k62-9"><use href="#L" x="500"/></g><g id="k62-10"><use href="#L" x="552"/></g><g id="k62-11"><use href="#L" x="604"/></g><g id="k62-12"><use href="#L" x="656"/></g></g>
<g id="row63" transform="translate(0 3285.7)"><g id="k63-1"><use href="#R" x="84"/></g><g id="k63-2"><use href="#R" x="136"/></g><g id="k63-3"><use href="#R" x="188"/></g><g id="k63-4"><use href="#R" x="240"/></g><g id="k63-5"><use href="#R" x="292"/></g><g id="k63-6"><use href="#R" x="344"/></g><g id="k63-7"><use href="#R" x="396"/></g><g id="k63-8"><use href="#R" x="448"/></g><g id="k63-9"><use href="#R" x="500"/></g><g id="k63-10"><use href="#R" x="552"/></g><g id="k63-11"><use href="#R" x="604"/></g><g id="k63-12"><use href="#R" x="656"/></g></g>
<g id="row64" transform="translate(0 3337.7)"><g id="k64-1"><use href="#L" x="84"/></g><g id="k64-2"><use href="#L" x="136"/></g><g id="k64-3"><use href="#L" x="188"/></g><g id="k64-4"><use href="#L" x="240"/></g><g id="k64-5"><use href="#L" x="292"/></g><g id="k64-6"><use href="#L" x="344"/></g><g id="k64-7"><use href="#L" x="396"/></g><g id="k64-8"><use href="#L" x="448"/></g><g id="k64-9"><use href="#L" x="500"/></g><g id="k64-10"><use href="#L" x="552"/></g><g id="k64-11"><use href="#L" x="604"/></g><g id="k64-12"><use href="#L" x="656"/></g></g>
</g>
<text id="watermark" class="wm" x="294" y="1705" textLength="156" lengthAdjust="spacingAndGlyphs">BRACELETBOOK.COM</text>
</svg>
